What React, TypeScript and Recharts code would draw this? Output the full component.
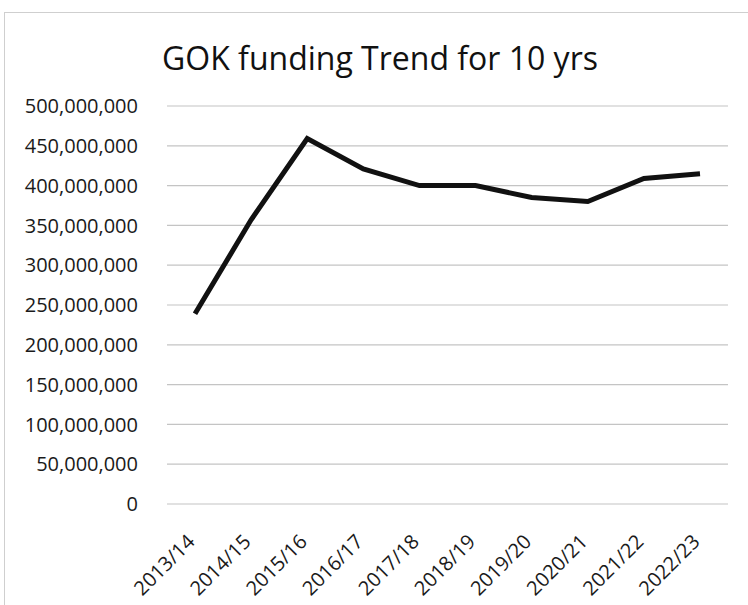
import { LineChart, Line, XAxis, YAxis, CartesianGrid } from "recharts"

const years = ["2013/14", "2014/15", "2015/16", "2016/17", "2017/18", "2018/19", "2019/20", "2020/21", "2021/22", "2022/23"]
const funding = [239000000, 357000000, 459000000, 421000000, 400000000, 400000000, 385000000, 380000000, 409000000, 415000000]
const yTicks = [0, 50000000, 100000000, 150000000, 200000000, 250000000, 300000000, 350000000, 400000000, 450000000, 500000000]

const chartData = years.map((year, i) => ({ year, funding: funding[i] }))

const font = "'Open Sans', sans-serif"

function YearTick(props: any) {
  const { x, y, payload } = props
  return (
    <g transform={`translate(${x + 1},${y + 31})`}>
      <text x={0} y={0} textAnchor="end" transform="rotate(-45)" fill="#1a1a1a" fontSize={20} fontFamily={font}>
        {payload.value}
      </text>
    </g>
  )
}

export default function App() {
  return (
    <div style={{ position: "absolute", left: 0, top: 0, width: 748, height: 605, background: "#fff", overflow: "hidden" }}>
      <div
        style={{
          position: "absolute",
          left: 4,
          top: 12,
          width: 760,
          height: 620,
          border: "1px solid #cfcfcf",
          boxSizing: "border-box",
        }}
      />
      <div
        style={{
          position: "absolute",
          left: 0,
          width: 760,
          top: 34,
          textAlign: "center",
          fontFamily: font,
          fontSize: 32,
          lineHeight: "48px",
          color: "#111",
        }}
      >
        GOK funding Trend for 10 yrs
      </div>
      <div style={{ position: "absolute", left: 0, top: 0 }}>
        <LineChart width={748} height={605} data={chartData} margin={{ top: 106, right: 20, left: 0, bottom: 0 }}>
          <CartesianGrid vertical={false} stroke="#c4c4c4" strokeWidth={1.2} />
          <XAxis
            dataKey="year"
            height={101}
            axisLine={false}
            tickLine={false}
            interval={0}
            padding={{ left: 28, right: 28 }}
            tick={<YearTick />}
          />
          <YAxis
            width={167}
            domain={[0, 500000000]}
            ticks={yTicks}
            axisLine={false}
            tickLine={false}
            tickMargin={23}
            tickFormatter={(v: number) => v.toLocaleString("en-US")}
            tick={{ fill: "#1a1a1a", fontSize: 20, fontFamily: font }}
          />
          <Line
            type="linear"
            dataKey="funding"
            stroke="#111"
            strokeWidth={5}
            dot={false}
            isAnimationActive={false}
          />
        </LineChart>
      </div>
    </div>
  )
}
